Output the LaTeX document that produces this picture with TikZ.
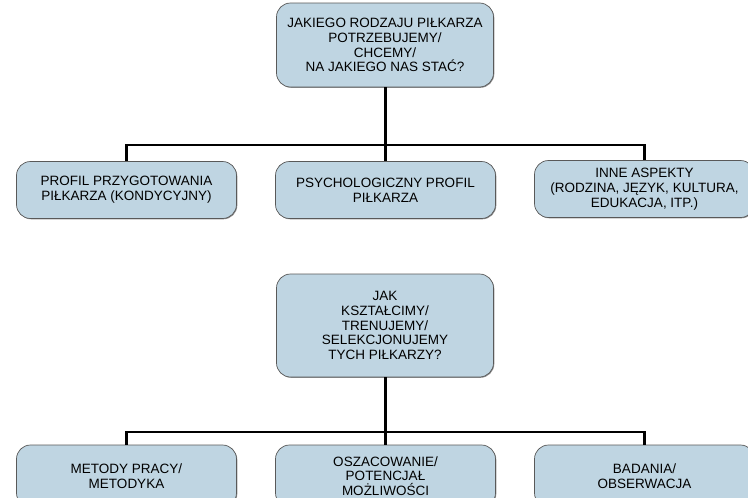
\documentclass[tikz,border=0pt]{standalone}
\usepackage{fontspec}
\setmainfont{Liberation Sans}
\usetikzlibrary{shadows}
\definecolor{boxblue}{RGB}{191,213,226}
\tikzset{
  box/.style={draw=black!65, line width=0.7pt, fill=boxblue, rounded corners=14pt,
    align=center, inner sep=2pt, minimum width=220pt, minimum height=57pt,
    font=\fontsize{13.5}{14.8}\selectfont,
    drop shadow={shadow xshift=0.8pt, shadow yshift=-0.8pt, fill=black!45, opacity=1}},
  conn/.style={line width=2.8pt}
}
\begin{document}
\begin{tikzpicture}[x=1pt,y=-1pt]
\useasboundingbox (0,0) rectangle (748,498);
% pytanie 1
\node[box, minimum width=217pt, minimum height=84pt] (pyt1) at (385,45)
  {JAKIEGO RODZAJU PIŁKARZA\\POTRZEBUJEMY/\\CHCEMY/\\NA JAKIEGO NAS STAĆ?};
\node[box] (prof1) at (126.5,190) {PROFIL PRZYGOTOWANIA\\PIŁKARZA (KONDYCYJNY)};
\node[box] (prof2) at (385.5,190) {PSYCHOLOGICZNY PROFIL\\PIŁKARZA};
\node[box] (prof3) at (644.5,189) {INNE ASPEKTY\\(RODZINA, JĘZYK, KULTURA,\\EDUKACJA, ITP.)};
\coordinate (bar1) at (385.5,145);
\draw[conn] (pyt1.south -| bar1) -- (bar1);
\draw[conn] (prof1.north) |- (bar1) -| (prof3.north);
\draw[conn] (bar1) -- (prof2.north);
% pytanie 2
\node[box, minimum width=217pt, minimum height=103pt] (pyt2) at (385,325.5)
  {JAK\\KSZTAŁCIMY/\\TRENUJEMY/\\SELEKCJONUJEMY\\TYCH PIŁKARZY?};
\node[box, minimum height=62pt] (met1) at (126.5,476) {METODY PRACY/\\METODYKA};
\node[box, minimum height=62pt] (met2) at (385.5,476) {OSZACOWANIE/\\POTENCJAŁ\\MOŻLIWOŚCI};
\node[box, minimum height=62pt] (met3) at (644.5,476) {BADANIA/\\OBSERWACJA};
\coordinate (bar2) at (385.5,432);
\draw[conn] (pyt2.south -| bar2) -- (bar2);
\draw[conn] (met1.north) |- (bar2) -| (met3.north);
\draw[conn] (bar2) -- (met2.north);
\end{tikzpicture}
\end{document}
